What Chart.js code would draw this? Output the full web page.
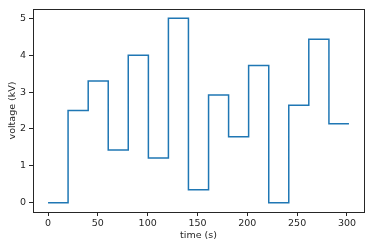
<!DOCTYPE html>
<html>
<head>
<meta charset="utf-8">
<script src="https://cdn.jsdelivr.net/npm/chart.js@4/dist/chart.umd.min.js"></script>
<style>
  html, body { margin: 0; padding: 0; background: #fff; }
  #wrap { position: relative; width: 374px; height: 249px; }
</style>
</head>
<body>
<div id="wrap"><canvas id="chart"></canvas></div>
<script>
// step times (s) and voltage (kV), held until the next time
const times = [0, 20.1, 40.3, 60.4, 80.5, 100.7, 120.8, 140.9, 161.1, 181.2, 201.3, 221.5, 241.6, 261.7, 281.9, 302];
const voltages = [0, 2.5, 3.3, 1.43, 4.0, 1.21, 5.0, 0.35, 2.92, 1.79, 3.72, 0, 2.64, 4.43, 2.14, 2.14];
const xTicks = [0, 50, 100, 150, 200, 250, 300];
const yTicks = [0, 1, 2, 3, 4, 5];

const font = { family: 'DejaVu Sans', size: 9.5 };
const ink = '#262626';

// matplotlib-style frame around the plot area
const frame = {
    id: 'frame',
    afterDraw(chart) {
        const a = chart.chartArea;
        const ctx = chart.ctx;
        ctx.save();
        ctx.strokeStyle = ink;
        ctx.lineWidth = 1;
        ctx.strokeRect(Math.round(a.left) + 0.5, Math.round(a.top) + 0.5,
            Math.round(a.right - a.left), Math.round(a.bottom - a.top));
        ctx.restore();
    }
};

new Chart(document.getElementById('chart'), {
    type: 'line',
    data: {
        datasets: [{
            data: times.map((t, i) => ({ x: t, y: voltages[i] })),
            stepped: 'before',
            borderColor: '#1f77b4',
            borderWidth: 1.5,
            pointRadius: 0,
            fill: false
        }]
    },
    options: {
        responsive: true,
        maintainAspectRatio: false,
        animation: false,
        layout: { padding: { top: 9, right: 10, left: 0, bottom: 0 } },
        plugins: { legend: { display: false }, tooltip: { enabled: false } },
        scales: {
            x: {
                type: 'linear',
                min: -15.1,
                max: 317.1,
                afterBuildTicks: s => { s.ticks = xTicks.map(v => ({ value: v })); },
                afterFit: s => { s.height = 37; },
                grid: { drawOnChartArea: false, drawTicks: true, tickLength: 4, color: ink },
                border: { display: false },
                ticks: { font: font, color: ink, padding: 2, maxRotation: 0 },
                title: { display: true, text: 'time (s)', font: font, color: ink, padding: { top: 2, bottom: 8 } }
            },
            y: {
                min: -0.25,
                max: 5.25,
                afterBuildTicks: s => { s.ticks = yTicks.map(v => ({ value: v })); },
                afterFit: s => { s.width = 33; },
                grid: { drawOnChartArea: false, drawTicks: true, tickLength: 4, color: ink },
                border: { display: false },
                ticks: { font: font, color: ink, padding: 3 },
                title: { display: true, text: 'voltage (kV)', font: font, color: ink, padding: { top: 7, bottom: 2 } }
            }
        }
    },
    plugins: [frame]
});
</script>
</body>
</html>
